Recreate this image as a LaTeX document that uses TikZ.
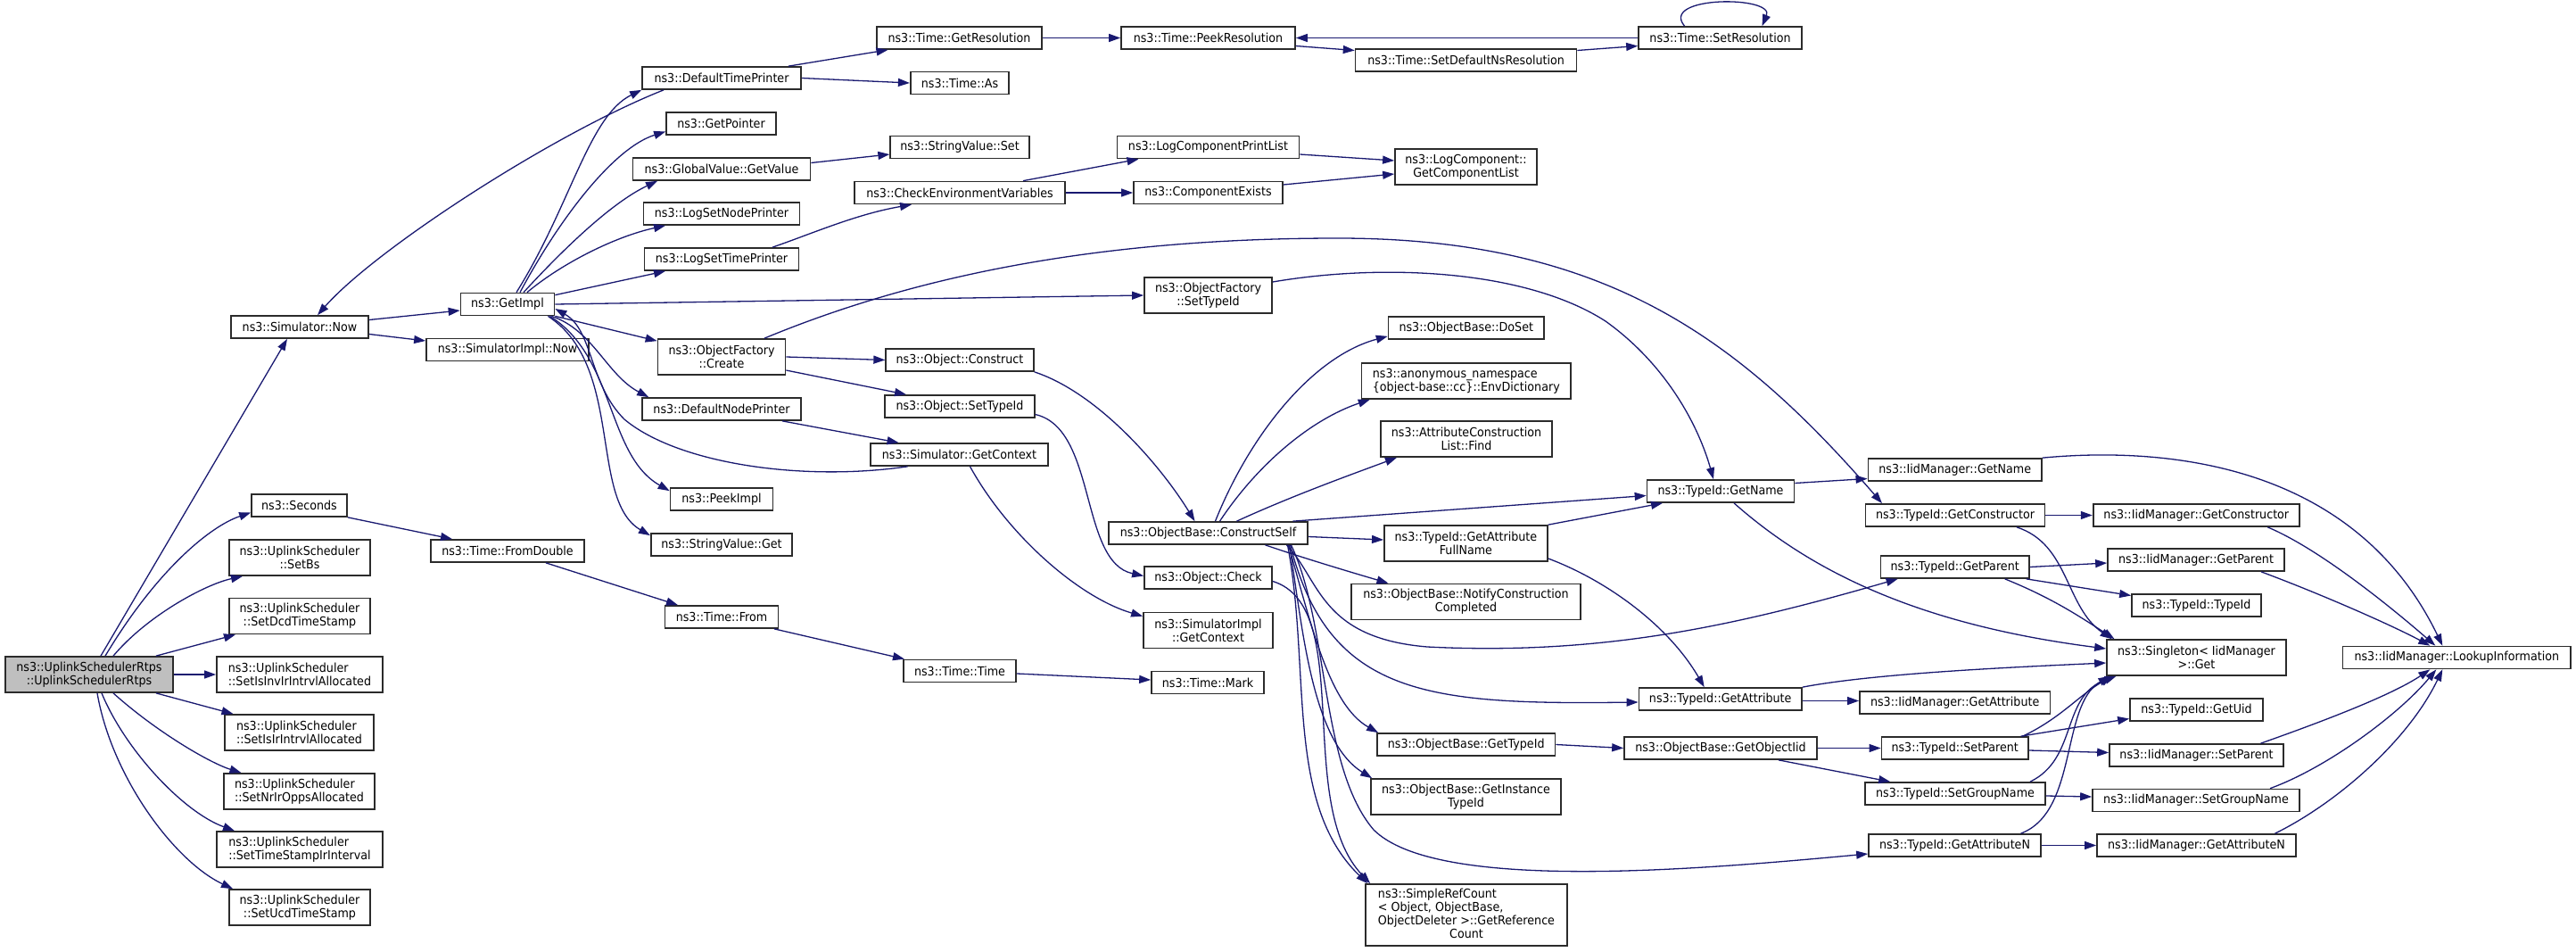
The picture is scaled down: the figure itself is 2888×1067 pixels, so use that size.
\documentclass[tikz,border=0pt]{standalone}
\usepackage{fontspec}
\setmainfont{DejaVu Sans}[FakeStretch=0.92]
\usetikzlibrary{arrows.meta}
\definecolor{edgeblue}{HTML}{191970}
\definecolor{boxline}{HTML}{2B2B2B}
\definecolor{rootfill}{HTML}{BFBFBF}
\newcommand{\graphfont}{\fontsize{13.8pt}{15pt}\selectfont}
\tikzset{
	fn/.style={draw=boxline, line width=1.7pt, fill=white, inner sep=0pt,
			minimum height=25pt, align=center, font=\graphfont},
	fntwo/.style={fn, minimum height=40pt},
	rootfn/.style={fntwo, fill=rootfill},
	call/.style={draw=edgeblue, line width=1.3pt, -{Triangle[length=13pt,width=9pt]}}
}

\begin{document}
\begin{tikzpicture}[x=1pt, y=-1pt]
        \useasboundingbox (0,0) rectangle (2888,1067);

        % Caller
        \node[rootfn, minimum width=188pt] (root) at (100,756) {ns3::UplinkSchedulerRtps\\::UplinkSchedulerRtps};

        % First column
        \node[fn, minimum width=154pt] (simnow) at (336,366.5) {ns3::Simulator::Now};
        \node[fn, minimum width=107pt] (seconds) at (335.5,566.5) {ns3::Seconds};
        \node[fntwo, minimum width=158pt] (setbs) at (336,625) {ns3::UplinkScheduler\\::SetBs};
        \node[fntwo, minimum width=158pt] (setdcd) at (336,690.5) {ns3::UplinkScheduler\\::SetDcdTimeStamp};
        \node[fntwo, minimum width=186pt, align=left] (setinv) at (336,756) {ns3::UplinkScheduler\\::SetIsInvIrIntrvlAllocated};
        \node[fntwo, minimum width=167pt, align=left] (setisir) at (335.5,821) {ns3::UplinkScheduler\\::SetIsIrIntrvlAllocated};
        \node[fntwo, minimum width=169pt, align=left] (setnrir) at (335.5,887) {ns3::UplinkScheduler\\::SetNrIrOppsAllocated};
        \node[fntwo, minimum width=186pt, align=left] (settsir) at (336,952) {ns3::UplinkScheduler\\::SetTimeStampIrInterval};
        \node[fntwo, minimum width=158pt] (setucd) at (336,1017) {ns3::UplinkScheduler\\::SetUcdTimeStamp};

        % Second column
        \node[fn, minimum width=105pt] (getimpl) at (569,341) {ns3::GetImpl};
        \node[fn, minimum width=182pt] (simimplnow) at (569,392) {ns3::SimulatorImpl::Now};
        \node[fn, minimum width=172pt] (fromdouble) at (569,617.5) {ns3::Time::FromDouble};

        % Third column
        \node[fn, minimum width=178pt] (deftime) at (809,87.5) {ns3::DefaultTimePrinter};
        \node[fn, minimum width=123pt] (getptr) at (808.5,138.5) {ns3::GetPointer};
        \node[fn, minimum width=199pt] (gvget) at (809,189.5) {ns3::GlobalValue::GetValue};
        \node[fn, minimum width=175pt] (lognode) at (809,239.5) {ns3::LogSetNodePrinter};
        \node[fn, minimum width=173pt] (logtime) at (809,290.5) {ns3::LogSetTimePrinter};
        \node[fntwo, minimum width=143pt] (ofcreate) at (809,400) {ns3::ObjectFactory\\::Create};
        \node[fn, minimum width=178pt] (defnode) at (809,458.5) {ns3::DefaultNodePrinter};
        \node[fn, minimum width=115pt] (peekimpl) at (809,559.5) {ns3::PeekImpl};
        \node[fn, minimum width=158.5pt] (svget) at (809,610.5) {ns3::StringValue::Get};
        \node[fn, minimum width=127pt] (timefrom) at (809,691.5) {ns3::Time::From};

        % Fourth column
        \node[fn, minimum width=185pt] (getres) at (1075.5,42.5) {ns3::Time::GetResolution};
        \node[fn, minimum width=110.5pt] (timeas) at (1076,93) {ns3::Time::As};
        \node[fn, minimum width=155.6pt] (svset) at (1076,165) {ns3::StringValue::Set};
        \node[fn, minimum width=235.6pt] (checkenv) at (1076,216) {ns3::CheckEnvironmentVariables};
        \node[fn, minimum width=165.6pt] (objconstruct) at (1076,403.5) {ns3::Object::Construct};
        \node[fn, minimum width=167.5pt] (objsettid) at (1076,455.5) {ns3::Object::SetTypeId};
        \node[fn, minimum width=199pt] (simgetctx) at (1075.5,509.5) {ns3::Simulator::GetContext};
        \node[fn, minimum width=126.3pt] (timetime) at (1076,752) {ns3::Time::Time};

        % Fifth column
        \node[fn, minimum width=195pt] (peekres) at (1354.5,42.5) {ns3::Time::PeekResolution};
        \node[fn, minimum width=204pt] (logprint) at (1354.5,165) {ns3::LogComponentPrintList};
        \node[fn, minimum width=167pt] (compexists) at (1354.5,216) {ns3::ComponentExists};
        \node[fntwo, minimum width=143pt] (ofsettid) at (1354.5,331) {ns3::ObjectFactory\\::SetTypeId};
        \node[fn, minimum width=223pt] (constructself) at (1354.5,597.5) {ns3::ObjectBase::ConstructSelf};
        \node[fn, minimum width=143pt] (objcheck) at (1354.5,647.5) {ns3::Object::Check};
        \node[fntwo, minimum width=145pt] (simimplctx) at (1354.5,706.5) {ns3::SimulatorImpl\\::GetContext};
        \node[fn, minimum width=126pt] (timemark) at (1354,765) {ns3::Time::Mark};

        % Sixth column
        \node[fn, minimum width=248pt] (setdefns) at (1643.6,67.5) {ns3::Time::SetDefaultNsResolution};
        \node[fntwo, minimum width=159pt] (getcomplist) at (1643.5,187) {ns3::LogComponent::\\GetComponentList};
        \node[fn, minimum width=174.4pt] (doset) at (1643.8,367.5) {ns3::ObjectBase::DoSet};
        \node[fntwo, minimum width=234.4pt, align=left] (envdict) at (1643.8,427) {ns3::anonymous\_namespace\\\{object-base::cc\}::EnvDictionary};
        \node[fntwo, minimum width=192pt] (aclfind) at (1644,492) {ns3::AttributeConstruction\\List::Find};
        \node[fntwo, minimum width=183pt] (getattrfull) at (1643.4,609) {ns3::TypeId::GetAttribute\\FullName};
        \node[fntwo, minimum width=257pt] (notify) at (1643.5,674.5) {ns3::ObjectBase::NotifyConstruction\\Completed};
        \node[fn, minimum width=199.5pt] (obgettid) at (1643.7,834.5) {ns3::ObjectBase::GetTypeId};
        \node[fntwo, minimum width=213pt] (getinst) at (1643.5,893) {ns3::ObjectBase::GetInstance\\TypeId};
        \node[fn, minimum width=226pt, minimum height=69pt] (refcount) at (1644,1025.5) {%
            \begin{tabular}{@{}l@{}}ns3::SimpleRefCount\\< Object, ObjectBase,\\ObjectDeleter >::GetReference\\\multicolumn{1}{@{}c@{}}{Count}\end{tabular}};

        % Seventh column
        \node[fn, minimum width=183pt] (setres) at (1928.5,42.5) {ns3::Time::SetResolution};
        \node[fn, minimum width=165pt] (tidgetname) at (1929,550.5) {ns3::TypeId::GetName};
        \node[fn, minimum width=182.5pt] (tidgetattr) at (1928.7,783.5) {ns3::TypeId::GetAttribute};
        \node[fn, minimum width=216pt] (getobjiid) at (1929,838.5) {ns3::ObjectBase::GetObjectIid};

        % Eighth column
        \node[fn, minimum width=194.6pt] (iidgetname) at (2191.7,526.5) {ns3::IidManager::GetName};
        \node[fn, minimum width=201pt] (tidgetctor) at (2192,577.5) {ns3::TypeId::GetConstructor};
        \node[fn, minimum width=166.5pt] (tidgetparent) at (2191.7,635.5) {ns3::TypeId::GetParent};
        \node[fn, minimum width=213.5pt] (iidgetattr) at (2191.7,787.5) {ns3::IidManager::GetAttribute};
        \node[fn, minimum width=164.5pt] (tidsetparent) at (2191.7,838.5) {ns3::TypeId::SetParent};
        \node[fn, minimum width=202pt] (tidsetgroup) at (2192,889.5) {ns3::TypeId::SetGroupName};
        \node[fn, minimum width=193pt] (tidgetattrn) at (2191.5,947.5) {ns3::TypeId::GetAttributeN};

        % Ninth column
        \node[fn, minimum width=231.3pt] (iidgetctor) at (2462.3,577.5) {ns3::IidManager::GetConstructor};
        \node[fn, minimum width=198pt] (iidgetparent) at (2462,627.5) {ns3::IidManager::GetParent};
        \node[fn, minimum width=145pt] (tidtypeid) at (2462.5,678.5) {ns3::TypeId::TypeId};
        \node[fntwo, minimum width=201pt] (singleton) at (2462.5,737) {ns3::Singleton< IidManager\\>::Get};
        \node[fn, minimum width=149pt] (tidgetuid) at (2462.5,795.5) {ns3::TypeId::GetUid};
        \node[fn, minimum width=195pt] (iidsetparent) at (2462.5,846.5) {ns3::IidManager::SetParent};
        \node[fn, minimum width=232pt] (iidsetgroup) at (2462,897) {ns3::IidManager::SetGroupName};
        \node[fn, minimum width=223pt] (iidgetattrn) at (2462.5,947.5) {ns3::IidManager::GetAttributeN};

        % Last column
        \node[fn, minimum width=255.4pt] (lookup) at (2754.3,737) {ns3::IidManager::LookupInformation};

        % Calls from the constructor
        \draw[call] ([xshift=13pt]root.north) -- ([xshift=-14pt]simnow.south);
        \draw[call] ([xshift=18pt]root.north) .. controls (175,640) and (235,590) .. ([yshift=-8pt]seconds.west);
        \draw[call] ([xshift=27pt]root.north) .. controls (165,690) and (230,655) .. ([xshift=-64pt]setbs.south);
        \draw[call] ([xshift=75pt]root.north) -- ([xshift=-72pt]setdcd.south);
        \draw[call] (root.east) -- (setinv.west);
        \draw[call] ([xshift=75pt]root.south) -- ([xshift=-74pt]setisir.north);
        \draw[call] ([xshift=27pt]root.south) .. controls (175,820) and (235,855) .. ([xshift=-65pt]setnrir.north);
        \draw[call] ([xshift=14pt]root.south) .. controls (140,840) and (205,910) .. ([xshift=-73pt]settsir.north);
        \draw[call] ([xshift=9pt]root.south) .. controls (125,870) and (195,965) .. ([xshift=-75pt]setucd.north);

        % Simulator and GetImpl
        \draw[call] ([yshift=8pt]simnow.east) -- ([yshift=-7pt]getimpl.west);
        \draw[call] ([yshift=-8pt]simnow.east) -- ([yshift=10pt]simimplnow.west);
        \draw[call] ([xshift=10pt]getimpl.north) .. controls (640,230) and (660,130) .. (deftime.south west);
        \draw[call] ([xshift=14pt]getimpl.north) .. controls (630,240) and (690,165) .. ([yshift=-9pt]getptr.west);
        \draw[call] ([xshift=18pt]getimpl.north) .. controls (640,270) and (690,225) .. ([xshift=-72pt]gvget.south);
        \draw[call] ([xshift=22pt]getimpl.north) .. controls (630,295) and (690,265) .. ([xshift=-63pt]lognode.south);
        \draw[call] ([yshift=-3pt]getimpl.north east) -- ([xshift=-63pt]logtime.south);
        \draw[call] (getimpl.east) -- (ofsettid.west);
        \draw[call] (getimpl.south east) -- ([yshift=-3pt]ofcreate.north west);
        \draw[call] ([xshift=-4pt]getimpl.south east) .. controls (665,370) and (680,420) .. ([xshift=8pt]defnode.north west);
        \draw[call] ([xshift=-6pt]getimpl.south east) .. controls (690,400) and (680,510) .. ([yshift=-4pt]peekimpl.north west);
        \draw[call] ([xshift=-8pt]getimpl.south east) .. controls (700,410) and (660,560) .. ([yshift=-3pt]svget.north west);
        \draw[call] ([xshift=-65pt]deftime.south) .. controls (620,150) and (420,280) .. ([xshift=20pt]simnow.north);
        \draw[call] ([xshift=75pt]deftime.north) -- ([xshift=-80pt]getres.south);
        \draw[call] (deftime.east) -- (timeas.west);
        \draw[call] ([xshift=-58pt]simgetctx.south) .. controls (900,540) and (760,520) .. (700,470)
            .. controls (660,430) and (665,370) .. ([yshift=-5pt]getimpl.east);
        \draw[call] ([xshift=12pt]simgetctx.south) .. controls (1130,600) and (1210,670) .. ([yshift=-5pt]simimplctx.north west);
        \draw[call] ([xshift=68pt]defnode.south) -- ([xshift=-68pt]simgetctx.north);

        % Time resolution
        \draw[call] (getres.east) -- (peekres.west);
        \draw[call] ([yshift=-9pt]peekres.east) -- ([yshift=11pt]setdefns.west);
        \draw[call] ([yshift=11pt]setdefns.east) -- ([yshift=-9pt]setres.west);
        \draw[call] (setres.west) -- (peekres.east);
        \draw[call] ([xshift=-40pt]setres.north) .. controls (1860,-5) and (1990,-5) .. ([xshift=47pt]setres.north);

        % Logging
        \draw[call] ([yshift=7pt]gvget.east) -- ([yshift=-8pt]svset.west);
        \draw[call] ([xshift=57pt]logtime.north) .. controls (910,262) and (960,240) .. ([xshift=-54pt]checkenv.south);
        \draw[call] ([xshift=71pt]checkenv.north) -- ([xshift=-78pt]logprint.south);
        \draw[call] (checkenv.east) -- (compexists.west);
        \draw[call] ([yshift=-8pt]logprint.east) -- ([yshift=7pt]getcomplist.west);
        \draw[call] ([yshift=9pt]compexists.east) -- ([yshift=-8pt]getcomplist.west);

        % Seconds
        \draw[call] (seconds.south east) -- ([xshift=-62pt]fromdouble.north);
        \draw[call] ([xshift=43pt]fromdouble.south) -- ([xshift=-49pt]timefrom.north);
        \draw[call] ([xshift=59pt]timefrom.south) -- ([xshift=-62pt]timetime.north);
        \draw[call] ([yshift=-3pt]timetime.east) -- ([yshift=3pt]timemark.west);

        % Object factory
        \draw[call] (ofcreate.east) -- (objconstruct.west);
        \draw[call] ([yshift=-15pt]ofcreate.east) -- ([xshift=-60pt]objsettid.north);
        \draw[call] ([xshift=48pt]ofcreate.north) .. controls (1000,320) and (1200,267) .. (1500,267)
            .. controls (1800,267) and (1950,380) .. ([xshift=-82pt]tidgetctor.north);
        \draw[call] ([yshift=15pt]ofsettid.east) .. controls (1550,295) and (1710,302) .. (1800,360)
            .. controls (1870,410) and (1905,480) .. ([xshift=-8pt]tidgetname.north);
        \draw[call] (objconstruct.south east) .. controls (1230,440) and (1300,520) .. ([xshift=-15pt]constructself.north);
        \draw[call] ([yshift=-9pt]objsettid.east) .. controls (1230,480) and (1210,630) .. ([yshift=2pt]objcheck.west);
        \draw[call] ([yshift=-4pt]objcheck.east) .. controls (1520,680) and (1450,900) .. ([xshift=6pt]refcount.north west);

        % ConstructSelf
        \draw[call] ([xshift=8pt]constructself.north) .. controls (1400,490) and (1470,400) .. ([yshift=4pt]doset.south west);
        \draw[call] ([xshift=13pt]constructself.north) .. controls (1410,520) and (1470,470) .. ([xshift=10pt]envdict.south west);
        \draw[call] ([xshift=32pt]constructself.north) .. controls (1450,555) and (1520,530) .. ([xshift=-78pt]aclfind.south);
        \draw[call] ([xshift=95pt]constructself.north) -- ([yshift=-5pt]tidgetname.west);
        \draw[call] ([yshift=-4pt]constructself.east) -- ([yshift=4pt]getattrfull.west);
        \draw[call] ([xshift=64pt]constructself.south) .. controls (1460,625) and (1510,640) .. ([xshift=-87pt]notify.north);
        \draw[call] ([xshift=88pt]constructself.south) .. controls (1480,650) and (1480,715) .. (1600,725)
            .. controls (1800,735) and (1950,700) .. ([xshift=20pt]tidgetparent.south west);
        \draw[call] ([xshift=92pt]constructself.south) .. controls (1490,780) and (1600,790) .. ([yshift=-3.5pt]tidgetattr.west);
        \draw[call] ([xshift=90pt]constructself.south) .. controls (1470,700) and (1490,790) .. ([xshift=2pt]obgettid.north west);
        \draw[call] ([xshift=91pt]constructself.south) .. controls (1460,700) and (1470,830) .. ([xshift=2pt]getinst.north west);
        \draw[call] ([xshift=89pt]constructself.south) .. controls (1470,750) and (1440,900) .. ([xshift=3pt]refcount.north west);
        \draw[call] ([xshift=93pt]constructself.south) .. controls (1490,700) and (1480,860) .. (1540,930)
            .. controls (1610,1000) and (1900,975) .. ([yshift=-9.5pt]tidgetattrn.west);

        % TypeId
        \draw[call] (getattrfull.north east) -- ([xshift=-65pt]tidgetname.south);
        \draw[call] ([yshift=-17pt]getattrfull.east) .. controls (1800,650) and (1870,700) .. ([xshift=-18pt]tidgetattr.north);
        \draw[call] ([yshift=9pt]tidgetname.east) -- ([yshift=-10pt]iidgetname.west);
        \draw[call] ([xshift=15pt]tidgetname.south) .. controls (2030,640) and (2150,700) .. ([yshift=10pt]singleton.west);
        \draw[call] (tidgetctor.east) -- (iidgetctor.west);
        \draw[call] ([xshift=69pt]tidgetctor.south) .. controls (2320,610) and (2315,680) .. ([xshift=-95pt]singleton.north);
        \draw[call] (tidgetparent.east) -- ([yshift=-3.5pt]iidgetparent.west);
        \draw[call] ([xshift=80pt]tidgetparent.south) -- ([yshift=11pt]tidtypeid.west);
        \draw[call] ([xshift=56pt]tidgetparent.south) .. controls (2300,670) and (2330,690) .. ([xshift=-92pt]singleton.north);
        \draw[call] ([yshift=-2pt]tidgetattr.east) -- ([yshift=2pt]iidgetattr.west);
        \draw[call] (tidgetattr.north east) .. controls (2100,755) and (2250,748) .. ([yshift=-6pt]singleton.west);
        \draw[call] (obgettid.east) -- (getobjiid.west);
        \draw[call] (getobjiid.east) -- (tidsetparent.west);
        \draw[call] ([xshift=65pt]getobjiid.south) -- ([xshift=29pt]tidsetgroup.north west);
        \draw[call] ([xshift=74pt]tidsetparent.north) -- ([yshift=-10pt]tidgetuid.west);
        \draw[call] ([yshift=-2.5pt]tidsetparent.east) -- ([yshift=3pt]iidsetparent.west);
        \draw[call] ([xshift=76pt]tidsetparent.north) .. controls (2310,805) and (2330,780) .. ([xshift=-95pt]singleton.south);
        \draw[call] ([yshift=-2.5pt]tidsetgroup.east) -- ([yshift=4pt]iidsetgroup.west);
        \draw[call] ([xshift=84pt]tidsetgroup.north) .. controls (2330,850) and (2310,780) .. ([xshift=-90pt]singleton.south);
        \draw[call] (tidgetattrn.east) -- (iidgetattrn.west);
        \draw[call] ([xshift=74pt]tidgetattrn.north) .. controls (2330,910) and (2310,790) .. ([xshift=-97pt]singleton.south);

        % IidManager lookups
        \draw[call] (iidgetname.north east) .. controls (2430,500) and (2640,520) .. ([xshift=-16pt]lookup.north);
        \draw[call] ([xshift=80pt]iidgetctor.south) .. controls (2600,615) and (2680,680) .. ([xshift=-24pt]lookup.north);
        \draw[call] ([xshift=73pt]iidgetparent.south) .. controls (2600,665) and (2680,700) .. ([xshift=-30pt]lookup.north);
        \draw[call] ([xshift=72pt]iidsetparent.north) .. controls (2600,810) and (2680,780) .. ([xshift=-30pt]lookup.south);
        \draw[call] ([xshift=83pt]iidsetgroup.north) .. controls (2610,860) and (2690,800) .. ([xshift=-23pt]lookup.south);
        \draw[call] ([xshift=88pt]iidgetattrn.north) .. controls (2620,900) and (2700,830) .. ([xshift=-16pt]lookup.south);

\end{tikzpicture}
\end{document}
